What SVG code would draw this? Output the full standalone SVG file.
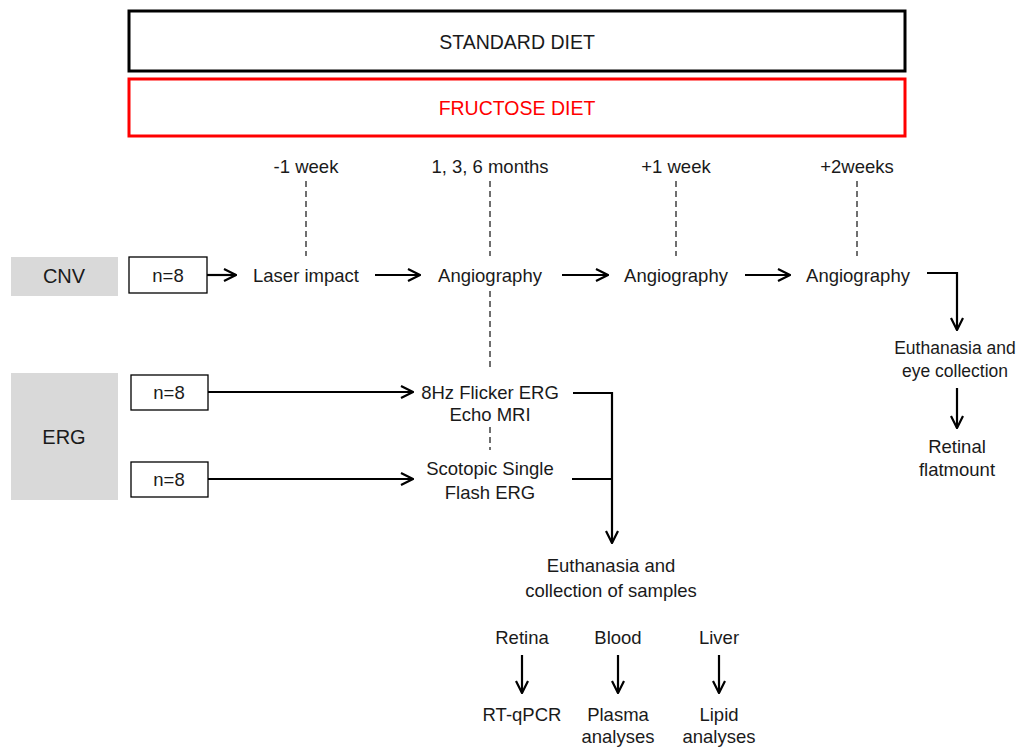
<svg xmlns="http://www.w3.org/2000/svg" width="1018" height="748" viewBox="0 0 1018 748">
<style>
text{font-family:"Liberation Sans",Arial,sans-serif;font-size:18.5px;fill:#1a1a1a;text-anchor:middle;dominant-baseline:central}
.c{stroke:#000;stroke-width:2.2;fill:none}
.d{stroke:#333;stroke-width:1.4;stroke-dasharray:6,4;fill:none}
.grey{fill:#d9d9d9}
.nbox{fill:#fff;stroke:#000;stroke-width:1.3}
</style>
<defs>
<marker id="ah" viewBox="0 0 14 14" refX="13" refY="7" markerWidth="14" markerHeight="14" markerUnits="userSpaceOnUse" orient="auto">
<path d="M1,1 L13,7 L1,13" fill="none" stroke="#000" stroke-width="2.2"/>
</marker>
</defs>
<rect width="1018" height="748" fill="#fff"/>
<g id="standard"><rect x="129" y="11" width="776" height="60" fill="#fff" stroke="#000" stroke-width="3"/><text x="517" y="42" style="font-size:19.5px">STANDARD DIET</text></g>
<g id="fructose"><rect x="129" y="79" width="776" height="57" fill="#fff" stroke="#f00" stroke-width="3"/><text x="517" y="108" style="font-size:19.5px;fill:#f00">FRUCTOSE DIET</text></g>
<g id="t1"><text x="306" y="166">-1 week</text></g>
<g id="t2"><text x="490" y="166">1, 3, 6 months</text></g>
<g id="t3"><text x="676" y="166">+1 week</text></g>
<g id="t4"><text x="857" y="166">+2weeks</text></g>
<g id="cnv"><rect class="grey" x="11" y="257" width="107" height="39"/><text x="64" y="276" style="font-size:20px">CNV</text></g>
<g id="n1"><rect class="nbox" x="129" y="257" width="78" height="36"/><text x="168" y="275">n=8</text></g>
<g id="laser"><text x="306" y="275">Laser impact</text></g>
<g id="ang1"><text x="490" y="275">Angiography</text></g>
<g id="ang2"><text x="676" y="275">Angiography</text></g>
<g id="ang3"><text x="858" y="275">Angiography</text></g>
<g id="euth1" style="font-size:17.5px"><text x="955" y="348" style="font-size:17.5px">Euthanasia and</text><text x="955" y="371" style="font-size:17.5px">eye collection</text></g>
<g id="flat"><text x="957" y="446">Retinal</text><text x="957" y="469">flatmount</text></g>
<g id="erg"><rect class="grey" x="11" y="373" width="107" height="127"/><text x="64" y="437" style="font-size:20px">ERG</text></g>
<g id="n2"><rect class="nbox" x="131" y="375" width="77" height="35"/><text x="169" y="392">n=8</text></g>
<g id="n3"><rect class="nbox" x="131" y="462" width="77" height="35"/><text x="169" y="479">n=8</text></g>
<g id="flicker"><text x="490" y="392">8Hz Flicker ERG</text><text x="490" y="414">Echo MRI</text></g>
<g id="scotopic"><text x="490" y="468">Scotopic Single</text><text x="490" y="492">Flash ERG</text></g>
<g id="euth2"><text x="611" y="565">Euthanasia and</text><text x="611" y="590">collection of samples</text></g>
<g id="retina"><text x="522" y="637">Retina</text></g>
<g id="blood"><text x="618" y="637">Blood</text></g>
<g id="liver"><text x="719" y="637">Liver</text></g>
<g id="rtq"><text x="522" y="714">RT-qPCR</text></g>
<g id="plasma"><text x="618" y="714">Plasma</text><text x="618" y="736">analyses</text></g>
<g id="lipid"><text x="719" y="714">Lipid</text><text x="719" y="736">analyses</text></g>
<g id="connectors">
<line class="d" x1="306" y1="181" x2="306" y2="256"/>
<line class="d" x1="490" y1="181" x2="490" y2="256"/>
<line class="d" x1="676" y1="181" x2="676" y2="256"/>
<line class="d" x1="857" y1="181" x2="857" y2="256"/>
<line class="d" x1="490" y1="291" x2="490" y2="367"/>
<line class="d" x1="490" y1="427" x2="490" y2="450"/>
<line class="c" x1="207" y1="275" x2="236" y2="275" marker-end="url(#ah)"/>
<line class="c" x1="375" y1="275" x2="420" y2="275" marker-end="url(#ah)"/>
<line class="c" x1="562" y1="275" x2="608" y2="275" marker-end="url(#ah)"/>
<line class="c" x1="745" y1="275" x2="790" y2="275" marker-end="url(#ah)"/>
<polyline class="c" points="927,273 957,273 957,330" marker-end="url(#ah)"/>
<line class="c" x1="957" y1="388" x2="957" y2="428" marker-end="url(#ah)"/>
<line class="c" x1="208" y1="392" x2="413" y2="392" marker-end="url(#ah)"/>
<line class="c" x1="208" y1="479" x2="413" y2="479" marker-end="url(#ah)"/>
<polyline class="c" points="573,393 612,393 612,543" marker-end="url(#ah)"/>
<line class="c" x1="572" y1="479" x2="612" y2="479"/>
<line class="c" x1="522" y1="655" x2="522" y2="693" marker-end="url(#ah)"/>
<line class="c" x1="618" y1="655" x2="618" y2="693" marker-end="url(#ah)"/>
<line class="c" x1="719" y1="655" x2="719" y2="693" marker-end="url(#ah)"/>
</g>
</svg>
